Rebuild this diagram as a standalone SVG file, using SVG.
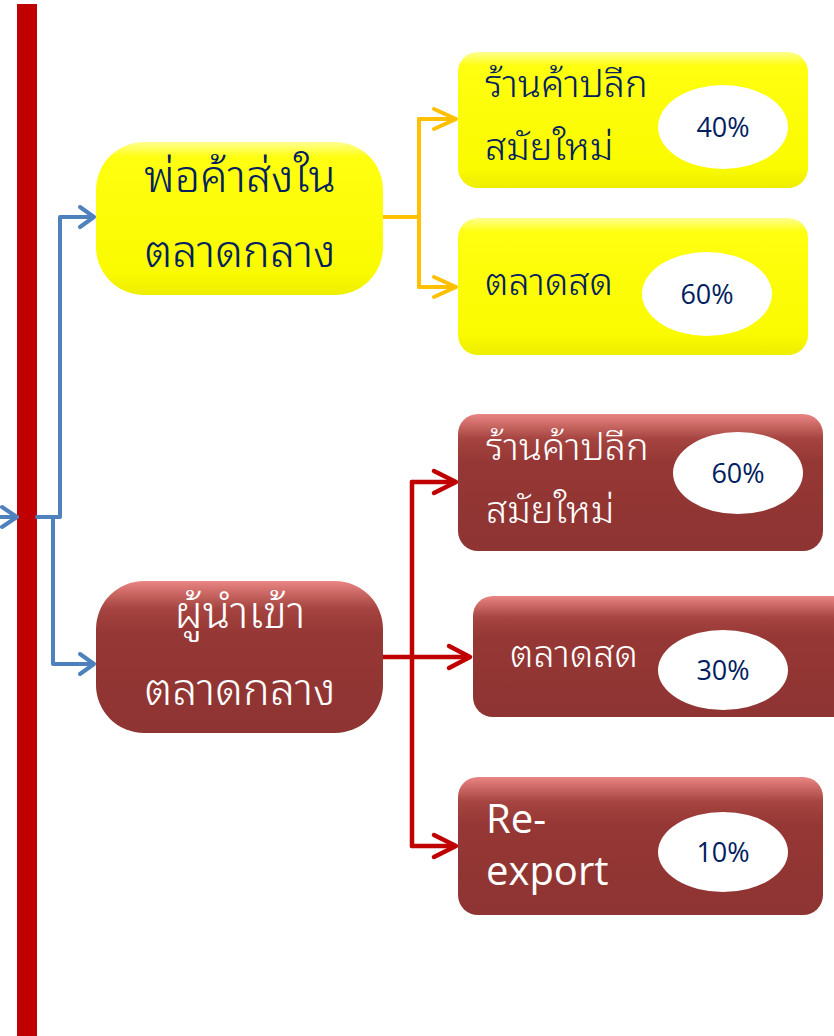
<svg xmlns="http://www.w3.org/2000/svg" width="834" height="1036" viewBox="0 0 834 1036">
<style>
.th{font-family:"Noto Sans Thai Looped","Noto Sans Thai","Noto Sans","DejaVu Sans",sans-serif;font-weight:300;}
.navy{fill:#002060;}
.white{fill:#ffffff;}
.pct{font-family:"Open Sans","Liberation Sans",sans-serif;font-size:27px;fill:#002060;text-anchor:middle;}
.blue{fill:none;stroke:#4f81bd;stroke-width:4;stroke-linejoin:round;stroke-linecap:round;}
.yel{fill:none;stroke:#ffc000;stroke-width:4;stroke-linejoin:round;stroke-linecap:round;}
.red{fill:none;stroke:#c00000;stroke-width:4.5;stroke-linejoin:round;stroke-linecap:round;}
.oval{fill:#ffffff;}
</style>
<defs>
<linearGradient id="gy" x1="0" y1="0" x2="0" y2="1">
<stop offset="0" stop-color="#ffff90"/>
<stop offset="0.1" stop-color="#ffff10"/>
<stop offset="0.85" stop-color="#fafa00"/>
<stop offset="1" stop-color="#eeee00"/>
</linearGradient>
<linearGradient id="gr" x1="0" y1="0" x2="0" y2="1">
<stop offset="0" stop-color="#e98582"/>
<stop offset="0.18" stop-color="#a54440"/>
<stop offset="0.35" stop-color="#953735"/>
<stop offset="1" stop-color="#8e3432"/>
</linearGradient>
</defs>
<rect x="17" y="4" width="20" height="1032" fill="#c00000"/>
<g id="connectors">
<path class="blue" d="M0 517 H17"/>
<path class="blue" d="M2 507 L17 517 L2 527"/>
<path class="blue" d="M37 517 H60 V217 H93"/>
<path class="blue" d="M80 207 L94 217 L80 227"/>
<path class="blue" d="M53 517 V664 H93"/>
<path class="blue" d="M80 654 L94 664 L80 674"/>
<path class="yel" d="M383 217 H419"/>
<path class="yel" d="M419 119 V287"/>
<path class="yel" d="M419 119 H455"/>
<path class="yel" d="M434 109 L456 119 L434 129"/>
<path class="yel" d="M419 287 H455"/>
<path class="yel" d="M434 277 L456 287 L434 297"/>
<path class="red" d="M383 657 H469"/>
<path class="red" d="M449 646 L470 657 L449 668"/>
<path class="red" d="M412 482 V846"/>
<path class="red" d="M412 482 H455"/>
<path class="red" d="M434 471 L456 482 L434 493"/>
<path class="red" d="M412 846 H455"/>
<path class="red" d="M434 835 L456 846 L434 857"/>
</g>
<g id="wholesaler">
<rect x="96" y="142" width="287" height="153" rx="48" fill="url(#gy)"/>
<text class="th navy" x="240" y="192" font-size="45" text-anchor="middle">พ่อค้าส่งใน</text>
<text class="th navy" x="240" y="267" font-size="45" text-anchor="middle">ตลาดกลาง</text>
</g>
<g id="importer">
<rect x="96" y="581" width="287" height="152" rx="48" fill="url(#gr)"/>
<text class="th white" x="240" y="628" font-size="45" text-anchor="middle">ผู้นำเข้า</text>
<text class="th white" x="240" y="705" font-size="45" text-anchor="middle">ตลาดกลาง</text>
</g>
<g id="y-modern">
<rect x="458" y="52" width="350" height="136" rx="20" fill="url(#gy)"/>
<text class="th navy" x="485" y="97" font-size="38">ร้านค้าปลีก</text>
<text class="th navy" x="485" y="160" font-size="38">สมัยใหม่</text>
<ellipse class="oval" cx="723" cy="127" rx="65" ry="42"/>
<text class="pct" x="723" y="137">40%</text>
</g>
<g id="y-fresh">
<rect x="458" y="218" width="350" height="137" rx="20" fill="url(#gy)"/>
<text class="th navy" x="485" y="295" font-size="38">ตลาดสด</text>
<ellipse class="oval" cx="707" cy="294" rx="65" ry="42"/>
<text class="pct" x="707" y="304">60%</text>
</g>
<g id="r-modern">
<rect x="458" y="414" width="365" height="137" rx="20" fill="url(#gr)"/>
<text class="th white" x="486" y="460" font-size="38">ร้านค้าปลีก</text>
<text class="th white" x="486" y="523" font-size="38">สมัยใหม่</text>
<ellipse class="oval" cx="738" cy="473" rx="65" ry="41"/>
<text class="pct" x="738" y="483">60%</text>
</g>
<g id="r-fresh">
<rect x="473" y="596" width="380" height="121" rx="20" fill="url(#gr)"/>
<text class="th white" x="510" y="667" font-size="38">ตลาดสด</text>
<ellipse class="oval" cx="723" cy="670" rx="65" ry="40"/>
<text class="pct" x="723" y="680">30%</text>
</g>
<g id="r-export">
<rect x="458" y="777" width="365" height="138" rx="20" fill="url(#gr)"/>
<text x="486" y="833" font-size="40" font-family="Open Sans, Liberation Sans, sans-serif" fill="#ffffff">Re-</text>
<text x="486" y="885" font-size="40" font-family="Open Sans, Liberation Sans, sans-serif" fill="#ffffff">export</text>
<ellipse class="oval" cx="723" cy="852" rx="65" ry="40"/>
<text class="pct" x="723" y="862">10%</text>
</g>
</svg>
